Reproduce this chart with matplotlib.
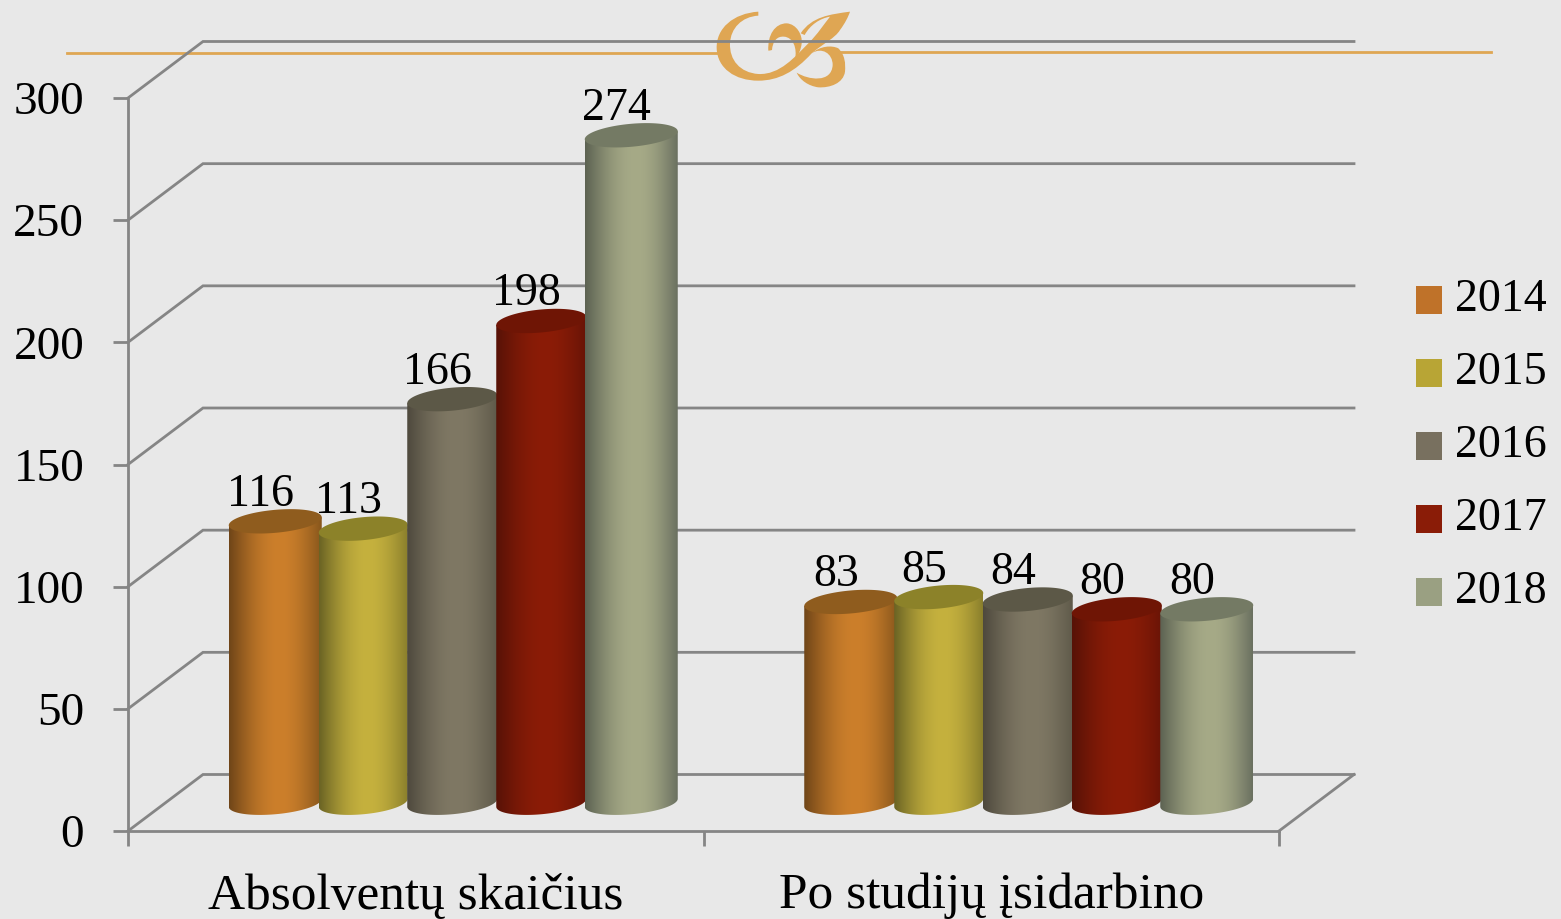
import numpy as np
import matplotlib
matplotlib.use("Agg")
import matplotlib.pyplot as plt
from matplotlib.legend_handler import HandlerPatch
from matplotlib.patches import Patch, PathPatch, Rectangle
from matplotlib.path import Path

categories = ["Absolventų skaičius", "Po studijų įsidarbino"]
years = ["2014", "2015", "2016", "2017", "2018"]
graduates = [116, 113, 166, 198, 274]
employed = [83, 85, 84, 80, 80]
y_ticks = [0, 50, 100, 150, 200, 250, 300]

W, H = 1561, 919
BG = "#e8e8e8"
GRID = "#858585"
GOLD = "#dfa653"
LEGEND_COLORS = ["#bf7229", "#b8a535", "#78705f", "#8a1c07", "#9aa082"]
# left edge, middle, right edge, top cap
BAR_SHADES = [
    ("#6f4518", "#cc7f2b", "#87561c", "#8f5c1e"),
    ("#6a6324", "#c5b13e", "#8a7f2c", "#8c8229"),
    ("#4e493d", "#7f7864", "#5f5a4a", "#5c5847"),
    ("#571206", "#8b1c07", "#681406", "#6f1505"),
    ("#5c6252", "#a6aa87", "#6a7060", "#747a64"),
]

plt.rcParams["font.family"] = ["Liberation Serif", "DejaVu Serif"]
FS = 33

fig = plt.figure(figsize=(W / 100, H / 100), dpi=100, facecolor=BG)

# monogram and gold rule sit under the chart, in pixel coordinates
bg = fig.add_axes([0, 0, 1, 1], zorder=0)
bg.set_xlim(0, W)
bg.set_ylim(H, 0)
bg.axis("off")
bg.plot([67, 720], [53, 53], color=GOLD, lw=2)
bg.plot([840, 1491], [52, 52], color=GOLD, lw=2)


def ornament(points):
    verts = [(680 + x / 3, y / 3) for x, y in points]
    codes = [Path.MOVETO] + [Path.CURVE4] * (len(verts) - 1)
    bg.add_patch(PathPatch(Path(verts, codes), fc=GOLD, ec="none"))


# C, tail, stem and leaf in one stroke
ornament([(235, 35), (160, 40), (108, 85), (110, 145),
          (112, 205), (165, 242), (235, 242),
          (295, 242), (345, 215), (395, 160),
          (430, 130), (465, 115), (480, 90),
          (495, 70), (505, 50), (510, 35),
          (450, 43), (395, 50), (362, 100),
          (366, 102), (370, 103), (374, 105),
          (390, 75), (420, 55), (450, 50),
          (430, 75), (415, 100), (385, 130),
          (345, 170), (300, 225), (235, 222),
          (180, 218), (148, 180), (150, 130),
          (152, 85), (185, 50), (235, 47),
          (235, 43), (235, 39), (235, 35)])
# curl
ornament([(265, 152), (262, 105), (285, 70), (320, 70),
          (350, 72), (368, 105), (365, 130),
          (363, 150), (355, 165), (345, 178),
          (352, 145), (340, 112), (312, 110),
          (290, 108), (278, 125), (276, 150),
          (272, 151), (268, 152), (265, 152)])
# lower bowl
ornament([(395, 160), (420, 138), (455, 135), (475, 145),
          (495, 165), (497, 190), (495, 215),
          (490, 250), (450, 264), (415, 262),
          (385, 258), (360, 240), (350, 218),
          (385, 240), (455, 250), (458, 195),
          (458, 160), (425, 140), (395, 160)])

ax = fig.add_axes([128 / W, (H - 831) / H, 1151 / W, 733 / H], zorder=1)
ax.patch.set_alpha(0)
ax.set_xlim(0, 2)
ax.set_ylim(0, 300)

px_x = 2 / 1151
px_y = 300 / 733
depth_x = 75 * px_x
depth_y = 56.5 * px_y

# back wall and side wall
for v in y_ticks:
    ax.plot([0, depth_x, 2 + depth_x], [v, v + depth_y, v + depth_y],
            color=GRID, lw=2, clip_on=False, zorder=1, solid_joinstyle="miter")
ax.plot([2, 2 + depth_x], [0, depth_y], color=GRID, lw=2, clip_on=False, zorder=1)

for s in ["top", "right"]:
    ax.spines[s].set_visible(False)
for s in ["left", "bottom"]:
    ax.spines[s].set_color(GRID)
    ax.spines[s].set_linewidth(2)
ax.set_yticks(y_ticks)
ax.set_xticks([0, 1, 2])
ax.set_xticklabels([])
ax.tick_params(axis="both", color=GRID, width=2, length=11, labelsize=FS, labelcolor="black")
ax.tick_params(axis="y", labelsize=34, pad=20.5)
for i, cat in enumerate(categories):
    ax.annotate(cat, xy=(i + 0.5, 0), xytext=(0, -65), textcoords="offset pixels",
                ha="center", va="center", fontsize=37, annotation_clip=False)

# offsets of the columns around the group centre, and their widths (pixels)
col_offsets = np.array([-177, -89, 0, 89, 179]) * px_x
col_widths = np.array([93, 89, 90, 90, 93]) * px_x
cap_b = 11.5 * px_y
cap_tilt = 4.0 * px_y


def hex_rgb(c):
    return np.array(matplotlib.colors.to_rgb(c))


def column(cx, w, top, shades, z):
    base_y = depth_y / 2
    top_y = top + depth_y / 2 - 2 * px_y
    a = w / 2
    t = np.linspace(np.pi, 2 * np.pi, 60)
    bx = cx + a * np.cos(t)
    by = base_y + cap_b * np.sin(t) + cap_tilt * np.cos(t)
    tt = np.linspace(0, np.pi, 60)
    ux = cx + a * np.cos(tt)
    uy = top_y + cap_tilt * np.cos(tt)
    # body outline: bottom arc, then straight up to the cap centre line
    body = np.column_stack([np.r_[bx, ux], np.r_[by, uy]])
    clip = ax.fill(body[:, 0], body[:, 1], fc="none", ec="none", clip_on=False)[0]

    left, mid, right = [hex_rgb(c) for c in shades[:3]]
    u = np.linspace(0, 1, 256)[:, None]
    ramp = np.where(u < 0.55, left + (mid - left) * np.sin(u / 0.55 * np.pi / 2),
                    right + (mid - right) * np.sin((1 - u) / 0.45 * np.pi / 2))
    img = ax.imshow(ramp[None, :, :], extent=[cx - a, cx + a, base_y - 3 * cap_b, top_y + 3 * cap_b],
                    aspect="auto", zorder=z, clip_on=True, interpolation="bilinear")
    img.set_clip_path(clip)

    tc = np.linspace(0, 2 * np.pi, 120)
    ax.fill(cx + a * np.cos(tc), top_y + cap_b * np.sin(tc) + cap_tilt * np.cos(tc),
            fc=shades[3], ec="none", zorder=z + 0.1, clip_on=False)


for g, values in enumerate([graduates, employed]):
    centre = g + 0.5 + depth_x / 2 - 1 * px_x
    for i, v in enumerate(values):
        cx = centre + col_offsets[i]
        column(cx, col_widths[i], v, BAR_SHADES[i], 5 + i)
        ax.annotate(str(v), xy=(cx, v), xytext=(-15, 53), textcoords="offset pixels",
                    ha="center", va="center", fontsize=FS, zorder=20, annotation_clip=False)

ax.set_xlim(0, 2)
ax.set_ylim(0, 300)


def lowered_square(legend, orig_handle, xdescent, ydescent, width, height, fontsize):
    # legend swatches sit about 5 px lower than the default
    return Rectangle((-xdescent, -ydescent - 3.6), width, height)


handles = [Patch(fc=c, ec="none", label=y) for c, y in zip(LEGEND_COLORS, years)]
fig.legend(handles=handles, loc="center left", bbox_to_anchor=(1416 / W, (H - 446) / H),
           frameon=False, fontsize=FS, handlelength=0.57, handleheight=0.57,
           handletextpad=0.28, labelspacing=0.665, borderpad=0, borderaxespad=0,
           handler_map={Patch: HandlerPatch(patch_func=lowered_square)})

fig.savefig("out.png", dpi=100, facecolor=BG)
